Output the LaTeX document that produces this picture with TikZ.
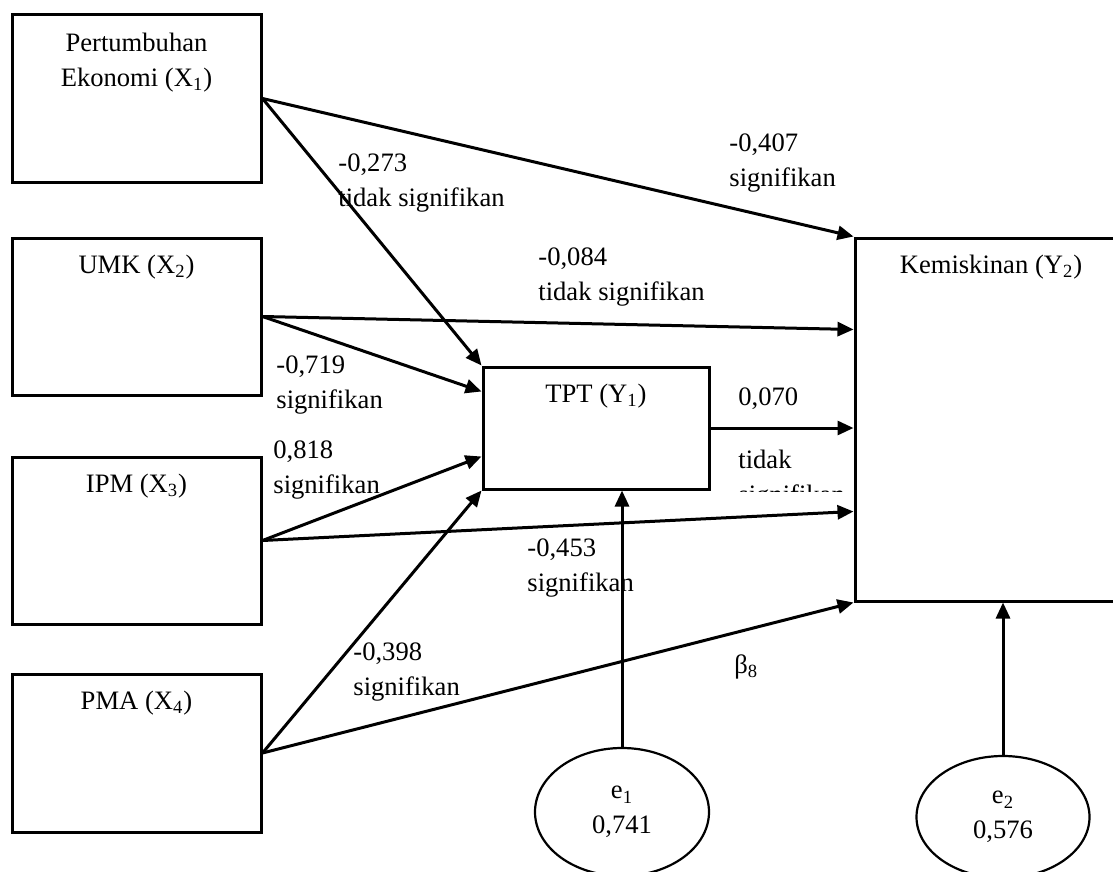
\documentclass[tikz,border=0pt]{standalone}
\usepackage{fontspec}
\setmainfont{Liberation Serif}
\usepackage{tikz}
\usetikzlibrary{calc,arrows.meta,shapes.geometric}

\tikzset{
    every node/.style={font=\fontsize{13.3}{17.5}\selectfont},
    varbox/.style={draw, line width=1.5pt, minimum width=124.5pt, inner sep=0pt},
    errnode/.style={draw, ellipse, line width=1.1pt, inner sep=0pt, align=center},
    vname/.style={inner sep=0pt, anchor=base, align=center},
    coef/.style={inner sep=0pt, anchor=base west, align=left},
    link/.style={line width=1.5pt, -{Triangle[length=8pt,width=7pt]}}
}

\begin{document}
\begin{tikzpicture}[x=0.5pt, y=-0.5pt]
        \useasboundingbox (0, 0) rectangle (1113, 872);
        \clip (0, 0) rectangle (1113, 872);

        \node[varbox, minimum height=83.5pt] (x1) at (136.5, 98.5) {};
        \node[vname] (x1name) at ([yshift=-36.5pt]x1.north) {Pertumbuhan\\Ekonomi (X\textsubscript{1})};
        \node[varbox, minimum height=78.5pt] (x2) at (136.5, 316.5) {};
        \node[vname] (x2name) at ([yshift=-18.5pt]x2.north) {UMK (X\textsubscript{2})};
        \node[varbox, minimum height=83.5pt] (x3) at (136.5, 540.5) {};
        \node[vname] (x3name) at ([yshift=-18.5pt]x3.north) {IPM (X\textsubscript{3})};
        \node[varbox, minimum height=79pt] (x4) at (136.5, 753) {};
        \node[vname] (x4name) at ([yshift=-18.5pt]x4.north) {PMA (X\textsubscript{4})};

        \node[varbox, minimum width=113pt, minimum height=61pt] (tpt) at (596, 428) {};
        \node[vname] (tptname) at ([yshift=-18.5pt]tpt.north) {TPT (Y\textsubscript{1})};
        \node[varbox, minimum width=136pt, minimum height=181.5pt] (kem) at (991, 419.5) {};
        \node[vname] (kemname) at ([yshift=-18.5pt]kem.north) {Kemiskinan (Y\textsubscript{2})};

        \node[errnode, minimum width=87pt, minimum height=64pt] (e1) at (622, 812) {e\textsubscript{1}\\0,741};
        \node[errnode, minimum width=86.5pt, minimum height=61pt] (e2) at (1003, 817) {e\textsubscript{2}\\0,576};

        \draw[link] (x1.east) -- (tpt.north west);
        \draw[link] (x1.east) -- (kem.north west);
        \draw[link] (x2.east) -- ($(tpt.north west)+(0, 26)$);
        \draw[link] (x2.east) -- ($(kem.north west)+(0, 93)$);
        \draw[link] (x3.east) -- ($(tpt.north west)+(0, 91)$);
        \draw[link] (x3.east) -- ($(kem.north west)+(0, 275)$);
        \draw[link] (x4.east) -- (tpt.south west);
        \draw[link] (x4.east) -- (kem.south west);
        \draw[link] (tpt.east) -- (tpt.east -| kem.west);
        \draw[link] (e1.north) -- (e1.north |- tpt.south);
        \draw[link] (e2.north) -- (e2.north |- kem.south);

        \node[coef] (c273) at (338, 206) {-0,273\\tidak signifikan};
        \node[coef] (c407) at (729, 186) {-0,407\\signifikan};
        \node[coef] (c084) at (538, 300) {-0,084\\tidak signifikan};
        \node[coef] (c719) at (276, 408) {-0,719\\signifikan};
        \node[coef] (c818) at (273, 493) {0,818\\signifikan};
        \node[coef] (c070) at (738, 405) {0,070};
        \node[coef] (c070t) at (738, 468) {tidak};
        \begin{scope}
            \clip (700, 440) rectangle (860, 491);
            \node[coef] (c070s) at (738, 503) {signifikan};
        \end{scope}
        \node[coef] (c453) at (527, 591) {-0,453\\signifikan};
        \node[coef] (c398) at (353, 695) {-0,398\\signifikan};
        \node[coef] (b8) at (734, 673) {β\textsubscript{8}};
\end{tikzpicture}
\end{document}
